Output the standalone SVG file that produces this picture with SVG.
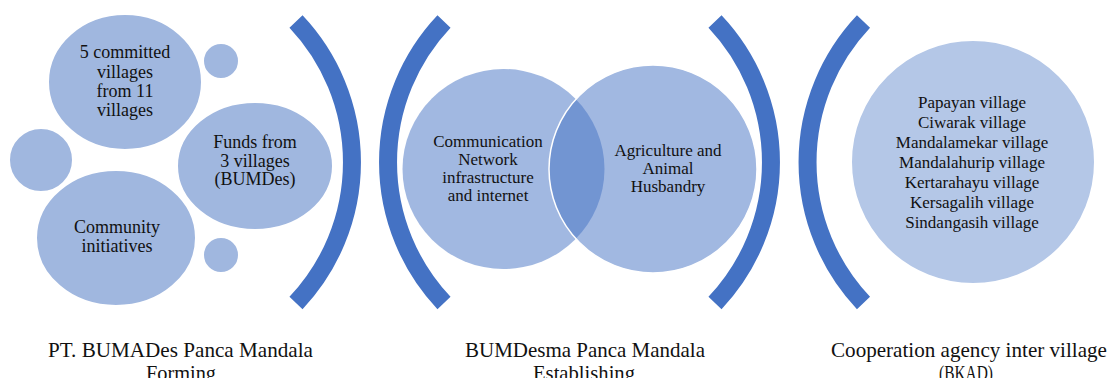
<svg xmlns="http://www.w3.org/2000/svg" width="1114" height="378" viewBox="0 0 1114 378">
  <style>
    .bub { fill: #a0b7df; stroke: #ffffff; stroke-width: 2; }
    .ven { fill: #4472c4; fill-opacity: 0.5; }
    .ring { fill: #b4c7e7; stroke: #ffffff; stroke-width: 2; }
    .bracket { fill: none; stroke: #4472c4; stroke-width: 18; stroke-linecap: butt; }
    text { font-family: "Liberation Serif", "Times New Roman", serif; fill: #111111; text-anchor: middle; }
    .t18 { font-size: 18px; }
    .t17 { font-size: 17px; }
    .cap { font-size: 21.5px; }
  </style>

  <rect width="1114" height="378" fill="#ffffff"/>

  <!-- Stage 1: forming -->
  <g id="bubble-small-left"><ellipse class="bub" cx="41" cy="160" rx="32" ry="32"/></g>
  <g id="bubble-small-top"><ellipse class="bub" cx="221" cy="61" rx="18" ry="18"/></g>
  <g id="bubble-small-bottom"><ellipse class="bub" cx="221" cy="255" rx="18" ry="18"/></g>
  <g id="committed-villages">
    <ellipse class="bub" cx="125" cy="82" rx="77" ry="68"/>
    <text class="t18" x="125" y="58">5 committed</text>
    <text class="t18" x="125" y="78">villages</text>
    <text class="t18" x="125" y="97">from 11</text>
    <text class="t18" x="125" y="116">villages</text>
  </g>
  <g id="community-initiatives">
    <ellipse class="bub" cx="116" cy="238" rx="80" ry="68"/>
    <text class="t18" x="117" y="233">Community</text>
    <text class="t18" x="117" y="252">initiatives</text>
  </g>
  <g id="village-funds">
    <ellipse class="bub" cx="255" cy="166" rx="78" ry="64"/>
    <text class="t18" x="255" y="148">Funds from</text>
    <text class="t18" x="255" y="167">3 villages</text>
    <text class="t18" x="255" y="185">(BUMDes)</text>
  </g>

  <!-- Stage 2: establishing -->
  <g id="communication-network">
    <ellipse class="ven" cx="503.5" cy="169" rx="101" ry="100"/>
    <text class="t17" x="488" y="147">Communication</text>
    <text class="t17" x="488" y="165">Network</text>
    <text class="t17" x="488" y="183">infrastructure</text>
    <text class="t17" x="488" y="201">and internet</text>
  </g>
  <g id="agriculture-husbandry">
    <circle class="ven" cx="653" cy="169" r="104" stroke="#ffffff" stroke-width="1.5"/>
    <text class="t17" x="668" y="156">Agriculture and</text>
    <text class="t17" x="668" y="174">Animal</text>
    <text class="t17" x="668" y="192">Husbandry</text>
  </g>

  <!-- Stage 3: cooperation -->
  <g id="member-villages">
    <circle class="ring" cx="973" cy="162" r="122"/>
    <text class="t17" x="972" y="108">Papayan village</text>
    <text class="t17" x="972" y="128">Ciwarak village</text>
    <text class="t17" x="972" y="148">Mandalamekar village</text>
    <text class="t17" x="972" y="168">Mandalahurip village</text>
    <text class="t17" x="972" y="188">Kertarahayu village</text>
    <text class="t17" x="972" y="208">Kersagalih village</text>
    <text class="t17" x="972" y="228">Sindangasih village</text>
  </g>

  <!-- Bracket separators between stages -->
  <g id="brackets">
    <path class="bracket" d="M296,21.5 A205,205 0 0 1 296,303"/>
    <path class="bracket" d="M444,21.5 A205,205 0 0 0 444,303"/>
    <path class="bracket" d="M715,21.5 A205,205 0 0 1 715,303"/>
    <path class="bracket" d="M863.5,21.5 A205,205 0 0 0 863.5,303"/>
  </g>

  <!-- Stage captions -->
  <g id="caption-forming">
    <text class="cap" x="180.5" y="357" textLength="265" lengthAdjust="spacingAndGlyphs">PT. BUMADes Panca Mandala</text>
    <text class="cap" x="181" y="380" textLength="70" lengthAdjust="spacingAndGlyphs">Forming</text>
  </g>
  <g id="caption-establishing">
    <text class="cap" x="585" y="357" textLength="240" lengthAdjust="spacingAndGlyphs">BUMDesma Panca Mandala</text>
    <text class="cap" x="584" y="380" textLength="102" lengthAdjust="spacingAndGlyphs">Establishing</text>
  </g>
  <g id="caption-cooperation">
    <text class="cap" x="969" y="357" textLength="276" lengthAdjust="spacingAndGlyphs">Cooperation agency inter village</text>
    <text class="cap" x="966" y="380" textLength="54" lengthAdjust="spacingAndGlyphs">(BKAD)</text>
  </g>
</svg>
